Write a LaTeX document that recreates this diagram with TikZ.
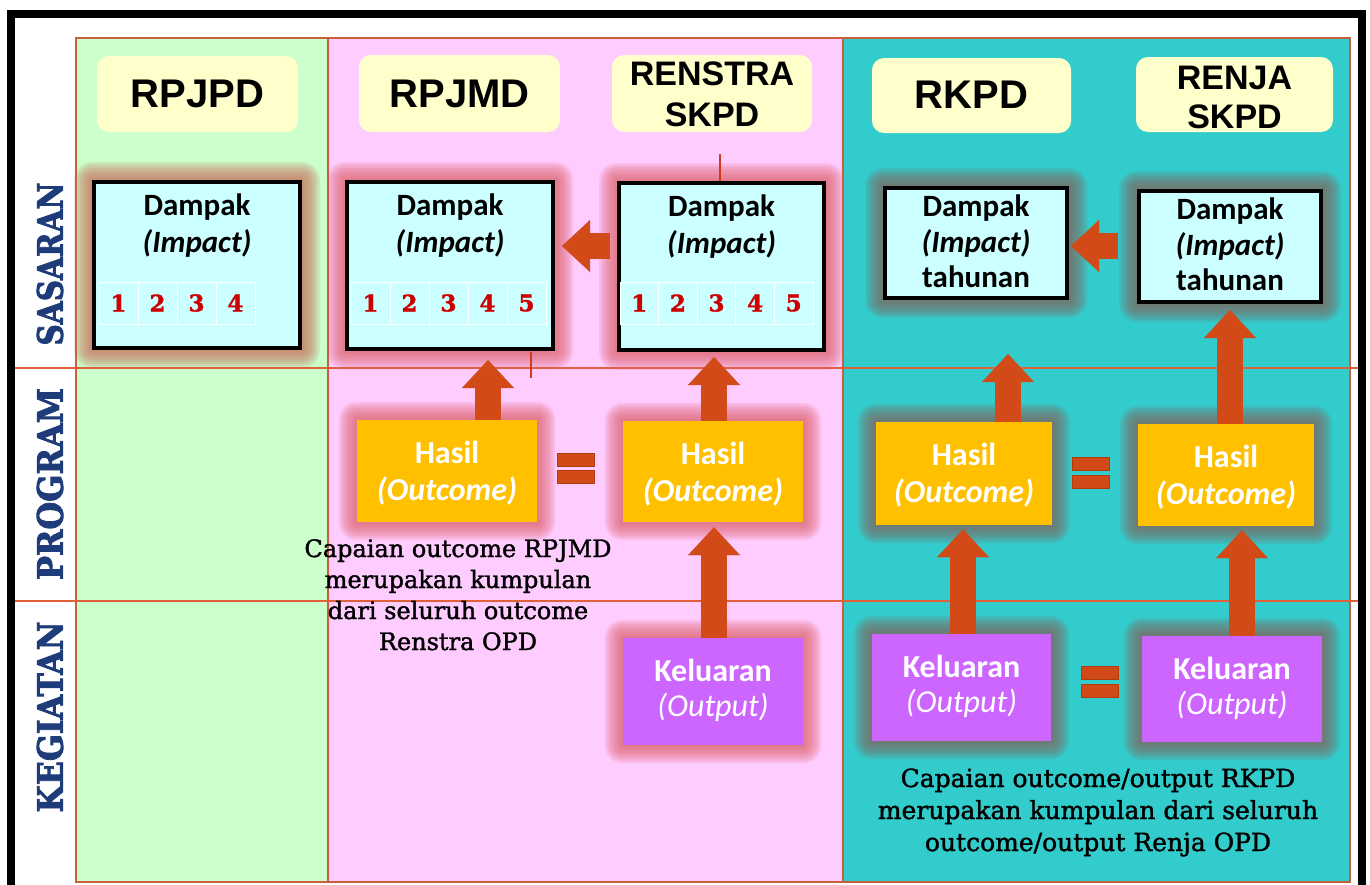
\documentclass[tikz,border=0pt]{standalone}
\usepackage{fontspec}
\usepackage{graphicx}
\setmainfont{Liberation Sans}
\newfontfamily\hfont{Liberation Sans}
\newfontfamily\cfont{Carlito}
\newfontfamily\slabfont[FakeBold=1.5]{DejaVu Serif}
\newfontfamily\numfont[FakeBold=1.5]{DejaVu Serif Bold}
\newfontfamily\heavyslab[FakeBold=2.5]{DejaVu Serif Bold}
\usetikzlibrary{arrows.meta,calc}
\pgfdeclarelayer{bg}
\pgfdeclarelayer{glowl}
\pgfsetlayers{bg,glowl,main}
\definecolor{gbg}{HTML}{CCFFCC}
\definecolor{pbg}{HTML}{FFCCFF}
\definecolor{tbg}{HTML}{33CCCC}
\definecolor{hdr}{HTML}{FFFFCC}
\definecolor{dmp}{HTML}{CCFFFF}
\definecolor{hsl}{HTML}{FFC000}
\definecolor{klr}{HTML}{CC66FF}
\definecolor{arr}{HTML}{D24A18}
\definecolor{arrd}{HTML}{B23C10}
\definecolor{gridc}{HTML}{C8603E}
\definecolor{rowc}{HTML}{E0603A}
\definecolor{navy}{HTML}{1F3C7A}
\definecolor{gbrown}{HTML}{C7715D}
\definecolor{gpink}{HTML}{DE636D}
\definecolor{ggray}{HTML}{84635D}
\definecolor{numred}{HTML}{CC0000}
\definecolor{tick}{HTML}{D03A1A}
\newcommand\glowit[2]{%
  \foreach \d in {2,4,...,18}{%
    \fill[#2, opacity=0.14, rounded corners=\d pt] ($(#1.south west)+(-\d,\d)$) rectangle ($(#1.north east)+(\d,-\d)$);}}
\begin{document}
\begin{tikzpicture}[x=1pt,y=-1pt,
  hdrbox/.style={fill=hdr, rounded corners=12pt, inner sep=0pt},
  dbox/.style={fill=dmp, draw=black, line width=4pt, inner sep=0pt},
  hbox/.style={fill=hsl, inner sep=0pt},
  kbox/.style={fill=klr, inner sep=0pt},
  htext/.style={font={\hfont\bfseries\fontsize{40}{40}\selectfont}, anchor=base, inner sep=0pt},
  htexttwo/.style={font={\hfont\bfseries\fontsize{34}{34}\selectfont}, anchor=base, inner sep=0pt},
  dtext/.style={font={\cfont\bfseries\fontsize{31}{31}\selectfont}, anchor=base, inner sep=0pt},
  itext/.style={font={\cfont\bfseries\itshape\fontsize{31}{31}\selectfont}, anchor=base, inner sep=0pt},
  wtext/.style={font={\cfont\bfseries\fontsize{32}{32}\selectfont}, text=white, anchor=base, inner sep=0pt},
  witext/.style={font={\cfont\bfseries\itshape\fontsize{32}{32}\selectfont}, text=white, anchor=base, inner sep=0pt},
  wotext/.style={font={\cfont\itshape\fontsize{32}{32}\selectfont}, text=white, anchor=base, inner sep=0pt},
  cell/.style={draw=white, line width=0.8pt, minimum width=#1, minimum height=42pt, inner sep=0pt, text=numred, font={\numfont\fontsize{23}{23}\selectfont}},
  rowlab/.style={rotate=90, text=navy, inner sep=0pt},
  captext/.style={font={\slabfont\fontsize{24}{24}\selectfont}, anchor=base, inner sep=0pt},
  captextr/.style={font={\slabfont\fontsize{25}{25}\selectfont}, anchor=base, inner sep=0pt},
  blockarrow/.style={draw=arr, line width=26pt, -{Triangle[width=52pt,length=28pt,line width=0.1pt,fill=arr]}},
  eqbar/.style={fill=arr, draw=arrd, line width=0.8pt}
]
\useasboundingbox (0,0) rectangle (1370,884);
\clip (0,0) rectangle (1370,884);

\begin{pgfonlayer}{bg}
\fill[white] (0,0) rectangle (1370,884);
\fill[gbg] (76,38) rectangle (328,882);
\fill[pbg] (328,38) rectangle (843,882);
\fill[tbg] (843,38) rectangle (1350,882);
\draw[gridc, line width=1.2pt] (76,38) rectangle (1350,882);
\draw[gridc, line width=1.2pt] (328,38) -- (328,882) (843,38) -- (843,882);
\draw[rowc, line width=1.2pt] (14,368) -- (1358,368) (14,601) -- (1358,601);
\end{pgfonlayer}

% row labels
\node[rowlab] (lsas) at (50,264) {\resizebox{163pt}{26pt}{\heavyslab SASARAN}};
\node[rowlab] (lprog) at (50,484) {\resizebox{192pt}{26pt}{\heavyslab PROGRAM}};
\node[rowlab] (lkeg) at (50,717) {\resizebox{191pt}{26pt}{\heavyslab KEGIATAN}};

% headers
\node[hdrbox, minimum width=201pt, minimum height=76pt] (hA) at (197.5,94) {};
\node[hdrbox, minimum width=201pt, minimum height=77pt] (hB) at (459.5,93.5) {};
\node[hdrbox, minimum width=200pt, minimum height=77pt] (hC) at (712,93.5) {};
\node[hdrbox, minimum width=199pt, minimum height=75pt] (hD) at (971.5,95.5) {};
\node[hdrbox, minimum width=197pt, minimum height=75pt] (hE) at (1234.5,94.5) {};
\node[htext] (tA) at (197.5,107.5) {RPJPD};
\node[htext] (tB) at (459.5,107.5) {RPJMD};
\node[htexttwo] (tC1) at (712,85.5) {RENSTRA};
\node[htexttwo] (tC2) at (712,126.5) {SKPD};
\node[htext] (tD) at (971.5,108) {RKPD};
\node[htexttwo] (tE1) at (1234.5,89) {RENJA};
\node[htexttwo] (tE2) at (1234.5,128) {SKPD};

% dampak boxes
\node[dbox, minimum width=206pt, minimum height=166pt] (d1) at (197,265) {};
\node[dbox, minimum width=206pt, minimum height=167pt] (d2) at (450,265.5) {};
\node[dbox, minimum width=205pt, minimum height=167pt] (d3) at (721.5,266.5) {};
\node[dbox, minimum width=182pt, minimum height=110pt] (d4) at (976,243) {};
\node[dbox, minimum width=182pt, minimum height=111pt] (d5) at (1230,246.5) {};

\foreach \n in {d1,d2,d3}{
  \node[dtext] (\n a) at ($(\n.north)+(0,35)$) {Dampak};
  \node[itext] (\n b) at ($(\n.north)+(0,72)$) {(Impact)};
}
\foreach \n in {d4,d5}{
  \node[dtext] (\n a) at ($(\n.north)+(0,30)$) {Dampak};
  \node[itext] (\n b) at ($(\n.north)+(0,66)$) {(Impact)};
  \node[dtext] (\n c) at ($(\n.north)+(0,101)$) {tahunan};
}

% number cells
\foreach \i in {1,...,4}{\node[cell=39pt] (ca\i) at ({99+39*(\i-0.5)},303) {\i};}
\foreach \i in {1,...,5}{\node[cell=39pt] (cb\i) at ({351+39*(\i-0.5)},303) {\i};}
\foreach \i in {1,...,5}{\node[cell=38.6pt] (cc\i) at ({620+38.6*(\i-0.5)},303) {\i};}

% hasil boxes
\node[hbox, minimum width=180pt, minimum height=102pt] (h2) at (447,471) {};
\node[hbox, minimum width=180pt, minimum height=101pt] (h3) at (713,471.5) {};
\node[hbox, minimum width=176pt, minimum height=103pt] (h4) at (964,473.5) {};
\node[hbox, minimum width=176pt, minimum height=102pt] (h5) at (1226,475) {};
\foreach \n in {h2,h3,h4,h5}{
  \node[wtext] (\n a) at ($(\n.north)+(0,44)$) {Hasil};
  \node[witext] (\n b) at ($(\n.north)+(0,81)$) {(Outcome)};
}

% keluaran boxes
\node[kbox, minimum width=180pt, minimum height=107pt] (k3) at (713,691.5) {};
\node[kbox, minimum width=179pt, minimum height=107pt] (k4) at (961.5,687.5) {};
\node[kbox, minimum width=180pt, minimum height=106pt] (k5) at (1232,689) {};
\foreach \n in {k3,k4,k5}{
  \node[wtext] (\n a) at ($(\n.north)+(0,44)$) {Keluaran};
  \node[wotext] (\n b) at ($(\n.north)+(0,79)$) {(Output)};
}

% glows
\begin{pgfonlayer}{glowl}
\glowit{d1}{gbrown}
\foreach \n in {d2,d3,h2,h3,k3}{\glowit{\n}{gpink}}
\foreach \n in {d4,d5,h4,h5,k4,k5}{\glowit{\n}{ggray}}
\end{pgfonlayer}

% block arrows
\draw[blockarrow] ($(h2.north)+(41,0)$) -- ($(d2.south)+(38,9)$);
\draw[blockarrow] ($(h3.north)+(1,0)$) -- ($(d3.south)+(-7.5,5)$);
\draw[blockarrow] ($(k3.north)+(1,0)$) -- ($(h3.south)+(1,5)$);
\draw[blockarrow] ($(h4.north)+(44,0)$) -- ($(d4.south)+(32,54)$);
\draw[blockarrow] ($(h5.north)+(4,0)$) -- ($(d5.south)+(0,6)$);
\draw[blockarrow] ($(k4.north)+(1.5,0)$) -- ($(h4.south)+(-1,4)$);
\draw[blockarrow] ($(k5.north)+(10,0)$) -- ($(h5.south)+(16,4)$);
\draw[blockarrow] ($(d3.west)+(-7,-20.5)$) -- ($(d2.east)+(7,-19.5)$);
\draw[blockarrow] ($(d5.west)+(-19,-0.5)$) -- ($(d4.east)+(2,3)$);

% equals signs
\node[minimum width=36pt, minimum height=29pt, inner sep=0pt] (eq1) at (576,468.5) {};
\node[minimum width=36pt, minimum height=30pt, inner sep=0pt] (eq2) at (1091,473) {};
\node[minimum width=36pt, minimum height=30pt, inner sep=0pt] (eq3) at (1100,682) {};
\foreach \n in {eq1,eq2,eq3}{
  \path[eqbar] (\n.north west) rectangle ($(\n.north east)+(0,12.5)$);
  \path[eqbar] ($(\n.south west)+(0,-12.5)$) rectangle (\n.south east);
}

% captions
\node[captext] (capa) at (458,557) {Capaian outcome RPJMD};
\node[captext] (capb) at (458,588) {merupakan kumpulan};
\node[captext] (capc) at (458,619) {dari seluruh outcome};
\node[captext] (capd) at (458,650) {Renstra OPD};
\node[captextr] (cra) at (1098,787) {Capaian outcome/output RKPD};
\node[captextr] (crb) at (1098,819) {merupakan kumpulan dari seluruh};
\node[captextr] (crc) at (1098,851) {outcome/output Renja OPD};

% small ticks
\draw[tick, line width=2pt] ($(d3.north)+(-1.5,-27)$) -- ($(d3.north)+(-1.5,0)$);
\draw[tick, line width=2pt] ($(d2.south)+(81,1)$) -- ($(d2.south)+(81,27)$);

% outer frame
\draw[black, line width=8pt] (10.5,14) rectangle (1362,900);
\end{tikzpicture}
\end{document}
